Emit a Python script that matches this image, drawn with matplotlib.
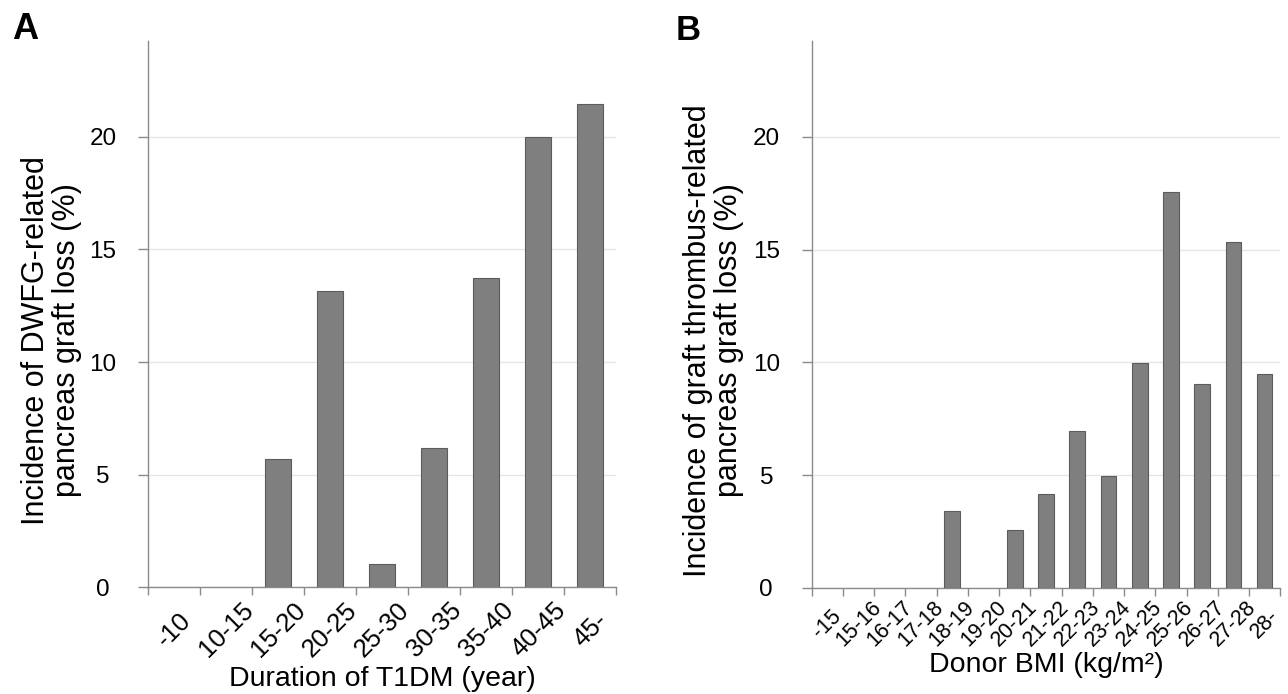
#!/usr/bin/env python3
"""Two-panel bar chart: pancreas graft loss by T1DM duration (A) and donor BMI (B)."""

import matplotlib
matplotlib.use("Agg")
import matplotlib.pyplot as plt
import numpy as np

# Panel A: duration of T1DM (year)
DURATION_LABELS = ["-10", "10-15", "15-20", "20-25", "25-30",
                   "30-35", "35-40", "40-45", "45-"]
DURATION_VALUES = [0.0, 0.0, 5.70, 13.15, 1.02, 6.17, 13.71, 20.0, 21.44]

# Panel B: donor BMI (kg/m2)
BMI_LABELS = ["-15", "15-16", "16-17", "17-18", "18-19", "19-20", "20-21",
              "21-22", "22-23", "23-24", "24-25", "25-26", "26-27", "27-28", "28-"]
BMI_VALUES = [0.0, 0.0, 0.0, 0.0, 3.41, 0.0, 2.54, 4.15, 6.95, 4.97,
              9.96, 17.57, 9.04, 15.32, 9.47]

Y_TICKS = [0, 5, 10, 15, 20]

BAR_COLOR = "#7f7f7f"
BAR_EDGE = "#5c5c5c"
AXIS_COLOR = "#8a8a8a"
GRID_COLOR = "#e6e6e6"

plt.rcParams["font.family"] = ["Liberation Sans", "DejaVu Sans"]


def draw_panel(ax, labels, values, xlabel, ylabel, xtick_size, xtick_pad,
               xlabel_y, ylabel_x):
    n = len(labels)
    x = np.arange(n)
    ax.bar(x, values, width=0.5, color=BAR_COLOR, edgecolor=BAR_EDGE,
           linewidth=[0.8 if v > 0 else 0 for v in values], zorder=3)

    ax.set_xlim(-0.5, n - 0.5)
    ax.set_ylim(0, 24.26)

    for side in ("top", "right"):
        ax.spines[side].set_visible(False)
    for side in ("left", "bottom"):
        ax.spines[side].set_color(AXIS_COLOR)
        ax.spines[side].set_linewidth(1.0)

    ax.set_yticks(Y_TICKS, [str(t) for t in Y_TICKS], ha="center")
    ax.tick_params(axis="y", length=7.2, width=1.0, color=AXIS_COLOR,
                   labelsize=17.5, pad=25.5)
    ax.yaxis.grid(True, color=GRID_COLOR, linewidth=1.0)
    ax.set_axisbelow(True)

    ax.set_xticks(x, labels, rotation=45, ha="center", va="center")
    ax.set_xticks(np.arange(n + 1) - 0.5, minor=True)
    ax.tick_params(axis="x", which="major", length=0, labelsize=xtick_size,
                   pad=xtick_pad)
    ax.tick_params(axis="x", which="minor", length=5.5, width=1.0,
                   color=AXIS_COLOR)

    ax.set_xlabel(xlabel, fontsize=20.5, va="center")
    ax.xaxis.set_label_coords(0.5, xlabel_y)
    ax.set_ylabel(ylabel, fontsize=22, linespacing=1.05)
    ax.yaxis.set_label_coords(ylabel_x, 0.452)


def main():
    fig = plt.figure(figsize=(12.88, 6.94), dpi=100)
    ax_a = fig.add_axes([0.1151, 0.1537, 0.3634, 0.7876])
    ax_b = fig.add_axes([0.6302, 0.1531, 0.3638, 0.7882])

    draw_panel(ax_a, DURATION_LABELS, DURATION_VALUES,
               "Duration of T1DM (year)",
               "Incidence of DWFG-related\npancreas graft loss (%)",
               xtick_size=18.5, xtick_pad=30.5, xlabel_y=-0.168, ylabel_x=-0.1406)
    draw_panel(ax_b, BMI_LABELS, BMI_VALUES,
               "Donor BMI (kg/m²)",
               "Incidence of graft thrombus-related\npancreas graft loss (%)",
               xtick_size=15.5, xtick_pad=26, xlabel_y=-0.141, ylabel_x=-0.1445)

    fig.text(12 / 1288, 1 - 12 / 694, "A", fontsize=26, fontweight="bold",
             ha="left", va="top")
    fig.text(676 / 1288, 1 - 14 / 694, "B", fontsize=25, fontweight="bold",
             ha="left", va="top")

    fig.savefig("out.png", dpi=100)
    plt.close(fig)


if __name__ == "__main__":
    main()
